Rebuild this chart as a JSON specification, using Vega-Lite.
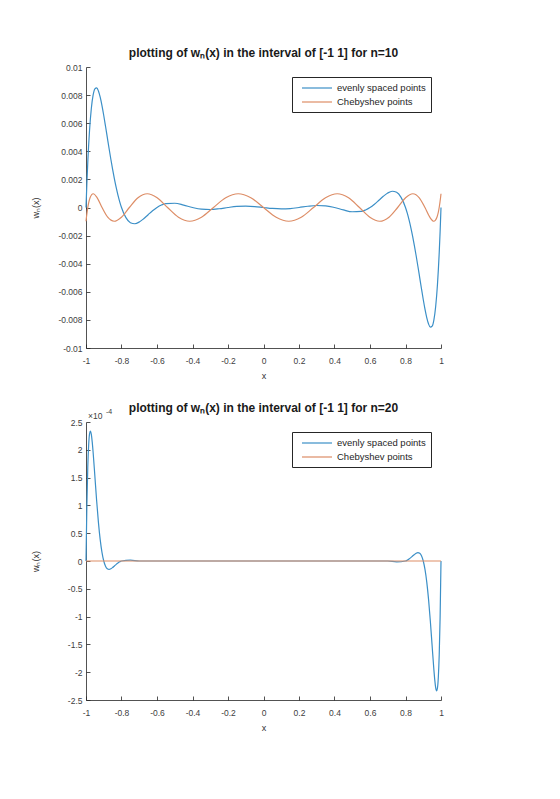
{
  "$schema": "https://vega.github.io/schema/vega-lite/v6.json",
  "background": "white",
  "padding": {"left": 31, "top": 47, "right": 5, "bottom": 5},
  "config": {
    "view": {"stroke": null},
    "font": "Liberation Sans",
    "concat": {"spacing": 21},
    "axis": {
      "grid": false,
      "domainColor": "#262626",
      "domainWidth": 0.8,
      "tickColor": "#262626",
      "tickWidth": 0.8,
      "tickSize": -4,
      "labelFont": "Liberation Sans",
      "labelFontSize": 8.5,
      "labelColor": "#404040",
      "labelFlush": false,
      "labelOverlap": false,
      "labelBound": false,
      "titleFont": "Liberation Sans",
      "titleFontSize": 9,
      "titleFontWeight": "normal",
      "titleColor": "#303030"
    },
    "axisX": {"labelPadding": 12, "titlePadding": 7},
    "axisY": {"labelPadding": 8, "titleX": -51, "titleBaseline": "middle"},
    "title": {"font": "Liberation Sans", "fontSize": 12, "fontWeight": "bold", "color": "#1a1a1a", "offset": 3, "anchor": "middle", "frame": "group"},
    "legend": {
      "orient": "top-right",
      "offset": 10,
      "strokeColor": "#262626",
      "fillColor": "white",
      "padding": 5,
      "symbolType": "M-3,0H3",
      "symbolSize": 100,
      "symbolOffset": 14,
      "symbolStrokeWidth": 1.2,
      "labelOffset": 14,
      "labelFont": "Liberation Sans",
      "labelFontSize": 9.5,
      "labelColor": "#262626",
      "labelLimit": 0,
      "rowPadding": 3
    }
  },
  "datasets": {
    "top": [
      {"x":-1,"y":0,"s":"evenly spaced points"},
      {"x":-0.995,"y":0.001726,"s":"evenly spaced points"},
      {"x":-0.99,"y":0.003203,"s":"evenly spaced points"},
      {"x":-0.98,"y":0.0055,"s":"evenly spaced points"},
      {"x":-0.97,"y":0.00705,"s":"evenly spaced points"},
      {"x":-0.96,"y":0.007992,"s":"evenly spaced points"},
      {"x":-0.95,"y":0.008447,"s":"evenly spaced points"},
      {"x":-0.94,"y":0.008519,"s":"evenly spaced points"},
      {"x":-0.93,"y":0.008296,"s":"evenly spaced points"},
      {"x":-0.92,"y":0.007853,"s":"evenly spaced points"},
      {"x":-0.91,"y":0.007252,"s":"evenly spaced points"},
      {"x":-0.9,"y":0.006547,"s":"evenly spaced points"},
      {"x":-0.89,"y":0.005781,"s":"evenly spaced points"},
      {"x":-0.88,"y":0.004989,"s":"evenly spaced points"},
      {"x":-0.87,"y":0.004199,"s":"evenly spaced points"},
      {"x":-0.86,"y":0.003433,"s":"evenly spaced points"},
      {"x":-0.85,"y":0.002708,"s":"evenly spaced points"},
      {"x":-0.84,"y":0.002036,"s":"evenly spaced points"},
      {"x":-0.83,"y":0.001425,"s":"evenly spaced points"},
      {"x":-0.82,"y":0.000881,"s":"evenly spaced points"},
      {"x":-0.81,"y":0.000406,"s":"evenly spaced points"},
      {"x":-0.8,"y":0,"s":"evenly spaced points"},
      {"x":-0.775,"y":-0.000724,"s":"evenly spaced points"},
      {"x":-0.75,"y":-0.001083,"s":"evenly spaced points"},
      {"x":-0.725,"y":-0.001157,"s":"evenly spaced points"},
      {"x":-0.7,"y":-0.001034,"s":"evenly spaced points"},
      {"x":-0.675,"y":-0.000796,"s":"evenly spaced points"},
      {"x":-0.65,"y":-0.000512,"s":"evenly spaced points"},
      {"x":-0.625,"y":-0.000235,"s":"evenly spaced points"},
      {"x":-0.6,"y":0,"s":"evenly spaced points"},
      {"x":-0.575,"y":0.000173,"s":"evenly spaced points"},
      {"x":-0.55,"y":0.000278,"s":"evenly spaced points"},
      {"x":-0.5,"y":0.000304,"s":"evenly spaced points"},
      {"x":-0.45,"y":0.000171,"s":"evenly spaced points"},
      {"x":-0.4,"y":0,"s":"evenly spaced points"},
      {"x":-0.35,"y":-0.000117,"s":"evenly spaced points"},
      {"x":-0.3,"y":-0.000142,"s":"evenly spaced points"},
      {"x":-0.25,"y":-0.000088,"s":"evenly spaced points"},
      {"x":-0.2,"y":0,"s":"evenly spaced points"},
      {"x":-0.15,"y":0.0000735,"s":"evenly spaced points"},
      {"x":-0.1,"y":0.0000982,"s":"evenly spaced points"},
      {"x":-0.05,"y":0.0000671,"s":"evenly spaced points"},
      {"x":0,"y":0,"s":"evenly spaced points"},
      {"x":0.05,"y":-0.0000671,"s":"evenly spaced points"},
      {"x":0.1,"y":-0.0000982,"s":"evenly spaced points"},
      {"x":0.15,"y":-0.0000735,"s":"evenly spaced points"},
      {"x":0.2,"y":0,"s":"evenly spaced points"},
      {"x":0.25,"y":0.000088,"s":"evenly spaced points"},
      {"x":0.3,"y":0.000142,"s":"evenly spaced points"},
      {"x":0.35,"y":0.000117,"s":"evenly spaced points"},
      {"x":0.4,"y":0,"s":"evenly spaced points"},
      {"x":0.45,"y":-0.000171,"s":"evenly spaced points"},
      {"x":0.5,"y":-0.000304,"s":"evenly spaced points"},
      {"x":0.55,"y":-0.000278,"s":"evenly spaced points"},
      {"x":0.575,"y":-0.000173,"s":"evenly spaced points"},
      {"x":0.6,"y":0,"s":"evenly spaced points"},
      {"x":0.625,"y":0.000235,"s":"evenly spaced points"},
      {"x":0.65,"y":0.000512,"s":"evenly spaced points"},
      {"x":0.675,"y":0.000796,"s":"evenly spaced points"},
      {"x":0.7,"y":0.001034,"s":"evenly spaced points"},
      {"x":0.725,"y":0.001157,"s":"evenly spaced points"},
      {"x":0.75,"y":0.001083,"s":"evenly spaced points"},
      {"x":0.775,"y":0.000724,"s":"evenly spaced points"},
      {"x":0.8,"y":0,"s":"evenly spaced points"},
      {"x":0.81,"y":-0.000406,"s":"evenly spaced points"},
      {"x":0.82,"y":-0.000881,"s":"evenly spaced points"},
      {"x":0.83,"y":-0.001425,"s":"evenly spaced points"},
      {"x":0.84,"y":-0.002036,"s":"evenly spaced points"},
      {"x":0.85,"y":-0.002708,"s":"evenly spaced points"},
      {"x":0.86,"y":-0.003433,"s":"evenly spaced points"},
      {"x":0.87,"y":-0.004199,"s":"evenly spaced points"},
      {"x":0.88,"y":-0.004989,"s":"evenly spaced points"},
      {"x":0.89,"y":-0.005781,"s":"evenly spaced points"},
      {"x":0.9,"y":-0.006547,"s":"evenly spaced points"},
      {"x":0.91,"y":-0.007252,"s":"evenly spaced points"},
      {"x":0.92,"y":-0.007853,"s":"evenly spaced points"},
      {"x":0.93,"y":-0.008296,"s":"evenly spaced points"},
      {"x":0.94,"y":-0.008519,"s":"evenly spaced points"},
      {"x":0.95,"y":-0.008447,"s":"evenly spaced points"},
      {"x":0.96,"y":-0.007992,"s":"evenly spaced points"},
      {"x":0.97,"y":-0.00705,"s":"evenly spaced points"},
      {"x":0.98,"y":-0.0055,"s":"evenly spaced points"},
      {"x":0.99,"y":-0.003203,"s":"evenly spaced points"},
      {"x":0.995,"y":-0.001726,"s":"evenly spaced points"},
      {"x":1,"y":0,"s":"evenly spaced points"},
      {"x":-1,"y":-0.000977,"s":"Chebyshev points"},
      {"x":-0.99745,"y":-0.000691,"s":"Chebyshev points"},
      {"x":-0.98982,"y":0,"s":"Chebyshev points"},
      {"x":-0.97715,"y":0.000691,"s":"Chebyshev points"},
      {"x":-0.95949,"y":0.000977,"s":"Chebyshev points"},
      {"x":-0.93695,"y":0.000691,"s":"Chebyshev points"},
      {"x":-0.90963,"y":0,"s":"Chebyshev points"},
      {"x":-0.87768,"y":-0.000691,"s":"Chebyshev points"},
      {"x":-0.84125,"y":-0.000977,"s":"Chebyshev points"},
      {"x":-0.80054,"y":-0.000691,"s":"Chebyshev points"},
      {"x":-0.75575,"y":0,"s":"Chebyshev points"},
      {"x":-0.70711,"y":0.000691,"s":"Chebyshev points"},
      {"x":-0.65486,"y":0.000977,"s":"Chebyshev points"},
      {"x":-0.59928,"y":0.000691,"s":"Chebyshev points"},
      {"x":-0.54064,"y":0,"s":"Chebyshev points"},
      {"x":-0.47925,"y":-0.000691,"s":"Chebyshev points"},
      {"x":-0.41542,"y":-0.000977,"s":"Chebyshev points"},
      {"x":-0.34946,"y":-0.000691,"s":"Chebyshev points"},
      {"x":-0.28173,"y":0,"s":"Chebyshev points"},
      {"x":-0.21257,"y":0.000691,"s":"Chebyshev points"},
      {"x":-0.14231,"y":0.000977,"s":"Chebyshev points"},
      {"x":-0.07134,"y":0.000691,"s":"Chebyshev points"},
      {"x":0,"y":0,"s":"Chebyshev points"},
      {"x":0.07134,"y":-0.000691,"s":"Chebyshev points"},
      {"x":0.14231,"y":-0.000977,"s":"Chebyshev points"},
      {"x":0.21257,"y":-0.000691,"s":"Chebyshev points"},
      {"x":0.28173,"y":0,"s":"Chebyshev points"},
      {"x":0.34946,"y":0.000691,"s":"Chebyshev points"},
      {"x":0.41542,"y":0.000977,"s":"Chebyshev points"},
      {"x":0.47925,"y":0.000691,"s":"Chebyshev points"},
      {"x":0.54064,"y":0,"s":"Chebyshev points"},
      {"x":0.59928,"y":-0.000691,"s":"Chebyshev points"},
      {"x":0.65486,"y":-0.000977,"s":"Chebyshev points"},
      {"x":0.70711,"y":-0.000691,"s":"Chebyshev points"},
      {"x":0.75575,"y":0,"s":"Chebyshev points"},
      {"x":0.80054,"y":0.000691,"s":"Chebyshev points"},
      {"x":0.84125,"y":0.000977,"s":"Chebyshev points"},
      {"x":0.87768,"y":0.000691,"s":"Chebyshev points"},
      {"x":0.90963,"y":0,"s":"Chebyshev points"},
      {"x":0.93695,"y":-0.000691,"s":"Chebyshev points"},
      {"x":0.95949,"y":-0.000977,"s":"Chebyshev points"},
      {"x":0.97715,"y":-0.000691,"s":"Chebyshev points"},
      {"x":0.98982,"y":0,"s":"Chebyshev points"},
      {"x":0.99745,"y":0.000691,"s":"Chebyshev points"},
      {"x":1,"y":0.000977,"s":"Chebyshev points"}
    ],
    "bottom": [
      {"x":-1,"y":0,"s":"evenly spaced points"},
      {"x":-0.995,"y":0.00010141,"s":"evenly spaced points"},
      {"x":-0.99,"y":0.00016835,"s":"evenly spaced points"},
      {"x":-0.985,"y":0.00020862,"s":"evenly spaced points"},
      {"x":-0.98,"y":0.00022863,"s":"evenly spaced points"},
      {"x":-0.975,"y":0.00023359,"s":"evenly spaced points"},
      {"x":-0.97,"y":0.00022766,"s":"evenly spaced points"},
      {"x":-0.965,"y":0.00021424,"s":"evenly spaced points"},
      {"x":-0.96,"y":0.00019593,"s":"evenly spaced points"},
      {"x":-0.95,"y":0.00015244,"s":"evenly spaced points"},
      {"x":-0.94,"y":0.00010834,"s":"evenly spaced points"},
      {"x":-0.93,"y":0.00006948,"s":"evenly spaced points"},
      {"x":-0.92,"y":0.00003839,"s":"evenly spaced points"},
      {"x":-0.91,"y":0.00001547,"s":"evenly spaced points"},
      {"x":-0.9,"y":0,"s":"evenly spaced points"},
      {"x":-0.89,"y":-0.00000928,"s":"evenly spaced points"},
      {"x":-0.88,"y":-0.0000138,"s":"evenly spaced points"},
      {"x":-0.87,"y":-0.00001496,"s":"evenly spaced points"},
      {"x":-0.86,"y":-0.00001392,"s":"evenly spaced points"},
      {"x":-0.85,"y":-0.00001165,"s":"evenly spaced points"},
      {"x":-0.84,"y":-0.00000887,"s":"evenly spaced points"},
      {"x":-0.83,"y":-0.00000607,"s":"evenly spaced points"},
      {"x":-0.82,"y":-0.00000356,"s":"evenly spaced points"},
      {"x":-0.81,"y":-0.00000152,"s":"evenly spaced points"},
      {"x":-0.8,"y":0,"s":"evenly spaced points"},
      {"x":-0.75,"y":0.00000154,"s":"evenly spaced points"},
      {"x":-0.7,"y":0,"s":"evenly spaced points"},
      {"x":-0.5,"y":0,"s":"evenly spaced points"},
      {"x":0,"y":0,"s":"evenly spaced points"},
      {"x":0.5,"y":0,"s":"evenly spaced points"},
      {"x":0.7,"y":0,"s":"evenly spaced points"},
      {"x":0.75,"y":-0.00000154,"s":"evenly spaced points"},
      {"x":0.8,"y":0,"s":"evenly spaced points"},
      {"x":0.81,"y":0.00000152,"s":"evenly spaced points"},
      {"x":0.82,"y":0.00000356,"s":"evenly spaced points"},
      {"x":0.83,"y":0.00000607,"s":"evenly spaced points"},
      {"x":0.84,"y":0.00000887,"s":"evenly spaced points"},
      {"x":0.85,"y":0.00001165,"s":"evenly spaced points"},
      {"x":0.86,"y":0.00001392,"s":"evenly spaced points"},
      {"x":0.87,"y":0.00001496,"s":"evenly spaced points"},
      {"x":0.88,"y":0.0000138,"s":"evenly spaced points"},
      {"x":0.89,"y":0.00000928,"s":"evenly spaced points"},
      {"x":0.9,"y":0,"s":"evenly spaced points"},
      {"x":0.91,"y":-0.00001547,"s":"evenly spaced points"},
      {"x":0.92,"y":-0.00003839,"s":"evenly spaced points"},
      {"x":0.93,"y":-0.00006948,"s":"evenly spaced points"},
      {"x":0.94,"y":-0.00010834,"s":"evenly spaced points"},
      {"x":0.95,"y":-0.00015244,"s":"evenly spaced points"},
      {"x":0.96,"y":-0.00019593,"s":"evenly spaced points"},
      {"x":0.965,"y":-0.00021424,"s":"evenly spaced points"},
      {"x":0.97,"y":-0.00022766,"s":"evenly spaced points"},
      {"x":0.975,"y":-0.00023359,"s":"evenly spaced points"},
      {"x":0.98,"y":-0.00022863,"s":"evenly spaced points"},
      {"x":0.985,"y":-0.00020862,"s":"evenly spaced points"},
      {"x":0.99,"y":-0.00016835,"s":"evenly spaced points"},
      {"x":0.995,"y":-0.00010141,"s":"evenly spaced points"},
      {"x":1,"y":0,"s":"evenly spaced points"},
      {"x":-1,"y":0,"s":"Chebyshev points"},
      {"x":-0.5,"y":0,"s":"Chebyshev points"},
      {"x":0,"y":0,"s":"Chebyshev points"},
      {"x":0.5,"y":0,"s":"Chebyshev points"},
      {"x":1,"y":0,"s":"Chebyshev points"}
    ]
  },
  "vconcat": [
    {
      "width": 355,
      "height": 281,
      "title": "plotting of wₙ(x) in the interval of [-1 1] for n=10",
      "data": {"name": "top"},
      "mark": {"type": "line", "interpolate": "monotone", "strokeWidth": 1.2},
      "encoding": {
        "x": {"field": "x", "type": "quantitative", "scale": {"domain": [-1, 1], "nice": false, "zero": false},
              "axis": {"title": "x", "labelOverlap": false, "values": [-1, -0.8, -0.6, -0.4, -0.2, 0, 0.2, 0.4, 0.6, 0.8, 1], "labelExpr": "replace(format(datum.value, '~g'), '−', '-')"}},
        "y": {"field": "y", "type": "quantitative", "scale": {"domain": [-0.01, 0.01], "nice": false, "zero": false},
              "axis": {"title": "wₙ(x)", "labelOverlap": false, "values": [-0.01, -0.008, -0.006, -0.004, -0.002, 0, 0.002, 0.004, 0.006, 0.008, 0.01], "labelExpr": "replace(format(datum.value, '~g'), '−', '-')"}},
        "color": {"field": "s", "type": "nominal", "sort": null,
                  "scale": {"domain": ["evenly spaced points", "Chebyshev points"], "range": ["#3b8fc7", "#dd8d66"]},
                  "legend": {"title": null}}
      }
    },
    {
      "width": 355,
      "height": 278,
      "title": {"text": "plotting of wₙ(x) in the interval of [-1 1] for n=20", "dy": 10},
      "resolve": {"axis": {"x": "independent", "y": "independent"}},
      "layer": [
        {
          "data": {"name": "bottom"},
          "mark": {"type": "line", "interpolate": "monotone", "strokeWidth": 1.2},
          "encoding": {
            "x": {"field": "x", "type": "quantitative", "scale": {"domain": [-1, 1], "nice": false, "zero": false},
                  "axis": {"title": "x", "labelOverlap": false, "values": [-1, -0.8, -0.6, -0.4, -0.2, 0, 0.2, 0.4, 0.6, 0.8, 1], "labelExpr": "replace(format(datum.value, '~g'), '−', '-')"}},
            "y": {"field": "y", "type": "quantitative", "scale": {"domain": [-0.00025, 0.00025], "nice": false, "zero": false},
                  "axis": {"title": "wₙ(x)", "labelOverlap": false, "values": [-0.00025, -0.0002, -0.00015, -0.0001, -0.00005, 0, 0.00005, 0.0001, 0.00015, 0.0002, 0.00025], "labelExpr": "replace(format(datum.value * 10000, '~g'), '−', '-')"}},
            "color": {"field": "s", "type": "nominal", "sort": null,
                      "scale": {"domain": ["evenly spaced points", "Chebyshev points"], "range": ["#3b8fc7", "#dd8d66"]},
                      "legend": {"title": null}}
          }
        },
        {
          "data": {"values": [{}]},
          "mark": {"type": "text", "text": "×10", "align": "left", "baseline": "middle", "dx": 2, "dy": -6, "fontSize": 8.5, "color": "#404040", "font": "Liberation Sans"},
          "encoding": {
            "x": {"datum": -1, "type": "quantitative", "axis": null},
            "y": {"datum": 0.00025, "type": "quantitative", "axis": null}
          }
        },
        {
          "data": {"values": [{}]},
          "mark": {"type": "text", "text": "-4", "align": "left", "baseline": "middle", "dx": 20, "dy": -10, "fontSize": 7, "color": "#404040", "font": "Liberation Sans"},
          "encoding": {
            "x": {"datum": -1, "type": "quantitative", "axis": null},
            "y": {"datum": 0.00025, "type": "quantitative", "axis": null}
          }
        }
      ]
    }
  ],
  "resolve": {"scale": {"color": "independent"}}
}
